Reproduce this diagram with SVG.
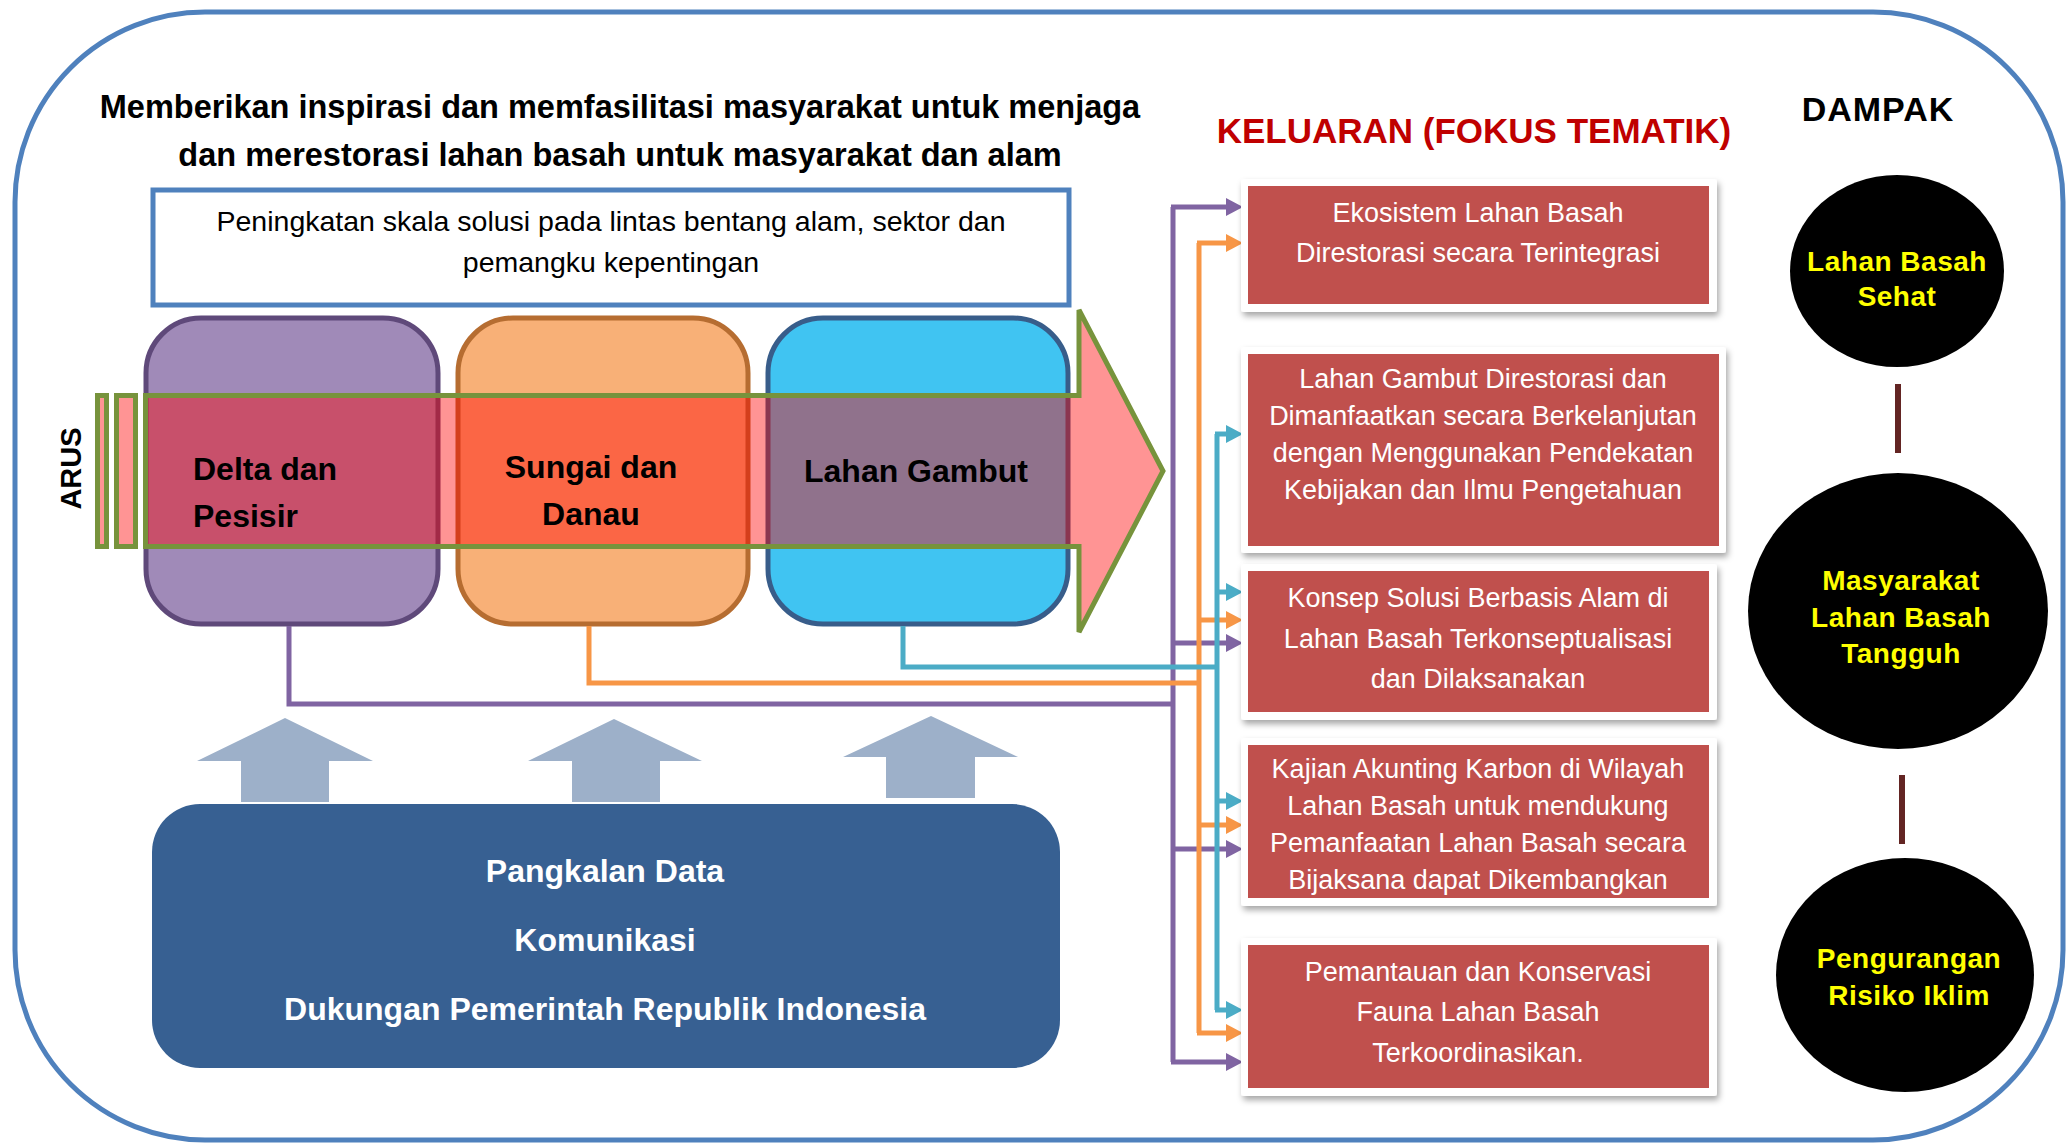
<svg xmlns="http://www.w3.org/2000/svg" width="2067" height="1145" viewBox="0 0 2067 1145">
<style>
text{font-family:"Liberation Sans",Arial,sans-serif}
.title{font-size:32.5px;font-weight:bold;fill:#000;text-anchor:middle}
.sub{font-size:28.5px;fill:#000;text-anchor:middle}
.band{font-size:32px;font-weight:bold;fill:#000}
.out{font-size:27px;fill:#fff;text-anchor:middle}
.base{font-size:32px;font-weight:bold;fill:#fff;text-anchor:middle}
.imp{font-size:28px;font-weight:bold;fill:#FFFF00;text-anchor:middle;letter-spacing:0.5px}
.frame{fill:#fff;filter:url(#sh)}
.red{fill:#C0504D}
.up{fill:#9DB0C9}
.ln{fill:none;stroke-width:5;stroke-linejoin:miter}
.pu{stroke:#8064A2}
.or{stroke:#F79646}
.bl{stroke:#4BACC6}
.bar{stroke:#632523;stroke-width:6}
</style>
<defs>
<filter id="sh" x="-5%" y="-10%" width="115%" height="130%">
<feDropShadow dx="2" dy="4" stdDeviation="3" flood-color="#000" flood-opacity="0.35"/>
</filter>
<marker id="mp" markerUnits="userSpaceOnUse" markerWidth="18" markerHeight="18" viewBox="0 0 18 18" refX="0" refY="9" orient="auto"><path d="M0 0 L17 9 L0 18 Z" fill="#8064A2"/></marker>
<marker id="mo" markerUnits="userSpaceOnUse" markerWidth="18" markerHeight="18" viewBox="0 0 18 18" refX="0" refY="9" orient="auto"><path d="M0 0 L17 9 L0 18 Z" fill="#F79646"/></marker>
<marker id="mb" markerUnits="userSpaceOnUse" markerWidth="18" markerHeight="18" viewBox="0 0 18 18" refX="0" refY="9" orient="auto"><path d="M0 0 L17 9 L0 18 Z" fill="#4BACC6"/></marker>
</defs>

<rect x="15" y="12" width="2048" height="1128" rx="190" ry="190" fill="#fff" stroke="#4F81BD" stroke-width="5"/>

<g id="title">
<text class="title" x="620" y="118">Memberikan inspirasi dan memfasilitasi masyarakat untuk menjaga</text>
<text class="title" x="620" y="166">dan merestorasi lahan basah untuk masyarakat dan alam</text>
</g>

<g id="scale-box">
<rect x="153" y="190" width="916" height="115" fill="#fff" stroke="#4F81BD" stroke-width="5"/>
<text class="sub" x="611" y="231">Peningkatan skala solusi pada lintas bentang alam, sektor dan</text>
<text class="sub" x="611" y="272">pemangku kepentingan</text>
</g>

<g id="delta">
<rect x="146" y="318" width="292" height="306" rx="55" fill="#A08AB8" stroke="#5F497A" stroke-width="5"/>
</g>
<g id="sungai">
<rect x="458" y="318" width="290" height="306" rx="55" fill="#F8B077" stroke="#B66D31" stroke-width="5"/>
</g>
<g id="gambut">
<rect x="768" y="318" width="300" height="306" rx="55" fill="#40C4F2" stroke="#385D8A" stroke-width="5"/>
</g>

<g id="arus">
<rect x="97.5" y="395.5" width="9" height="151" fill="#FF0000" fill-opacity="0.42" stroke="#77933C" stroke-width="5"/>
<rect x="116.5" y="395.5" width="19" height="151" fill="#FF0000" fill-opacity="0.42" stroke="#77933C" stroke-width="5"/>
<path d="M145.5 395.5 H1079 V310 L1163 471 L1079 632 V546.5 H145.5 Z" fill="#FF0000" fill-opacity="0.42" stroke="#77933C" stroke-width="5"/>
<text class="band" x="193" y="480">Delta dan</text>
<text class="band" x="193" y="527">Pesisir</text>
<text class="band" x="591" y="478" text-anchor="middle">Sungai dan</text>
<text class="band" x="591" y="525" text-anchor="middle">Danau</text>
<text class="band" x="916" y="482" text-anchor="middle">Lahan Gambut</text>
<text transform="translate(81,468.5) rotate(-90)" font-size="29" font-weight="bold" text-anchor="middle" fill="#000">ARUS</text>
</g>

<g id="support">
<polygon class="up" points="285,718 373,761 329,761 329,802 241,802 241,761 197,761"/>
<polygon class="up" points="614,719 702,761 660,761 660,802 572,802 572,761 528,761"/>
<polygon class="up" points="931,716 1018,757 975,757 975,798 886,798 886,757 843,757"/>
<rect x="152" y="804" width="908" height="264" rx="48" fill="#376092"/>
<text class="base" x="605" y="882">Pangkalan Data</text>
<text class="base" x="605" y="951">Komunikasi</text>
<text class="base" x="605" y="1020">Dukungan Pemerintah Republik Indonesia</text>
</g>

<g id="connectors">
<path class="ln pu" d="M289 626 V704 H1173"/>
<path class="ln pu" d="M1173 207 V1062"/>
<path class="ln pu" d="M1171 207 H1226" marker-end="url(#mp)"/>
<path class="ln pu" d="M1173 643 H1226" marker-end="url(#mp)"/>
<path class="ln pu" d="M1173 849 H1226" marker-end="url(#mp)"/>
<path class="ln pu" d="M1171 1062 H1226" marker-end="url(#mp)"/>
<path class="ln or" d="M589 626 V683 H1199"/>
<path class="ln or" d="M1199 243 V1033"/>
<path class="ln or" d="M1197 243 H1226" marker-end="url(#mo)"/>
<path class="ln or" d="M1199 620 H1226" marker-end="url(#mo)"/>
<path class="ln or" d="M1199 825 H1226" marker-end="url(#mo)"/>
<path class="ln or" d="M1197 1033 H1226" marker-end="url(#mo)"/>
<path class="ln bl" d="M903 626 V667 H1217"/>
<path class="ln bl" d="M1217 434 V1010"/>
<path class="ln bl" d="M1215 434 H1226" marker-end="url(#mb)"/>
<path class="ln bl" d="M1217 592 H1226" marker-end="url(#mb)"/>
<path class="ln bl" d="M1217 801 H1226" marker-end="url(#mb)"/>
<path class="ln bl" d="M1215 1010 H1226" marker-end="url(#mb)"/>
<line class="bar" x1="1898" y1="384" x2="1898" y2="453"/>
<line class="bar" x1="1902" y1="775" x2="1902" y2="844"/>
</g>

<g id="keluaran-header">
<text x="1474" y="143" font-size="35" font-weight="bold" fill="#C00000" text-anchor="middle">KELUARAN (FOKUS TEMATIK)</text>
</g>
<g id="dampak-header">
<text x="1878" y="121" font-size="34" font-weight="bold" fill="#000" text-anchor="middle" letter-spacing="1">DAMPAK</text>
</g>

<g id="out1">
<rect class="frame" x="1241" y="179" width="476" height="133" rx="3"/>
<rect class="red" x="1248" y="186" width="461" height="118"/>
<text class="out" x="1478" y="222">Ekosistem Lahan Basah</text>
<text class="out" x="1478" y="262">Direstorasi secara Terintegrasi</text>
</g>
<g id="out2">
<rect class="frame" x="1241" y="347" width="485" height="206" rx="3"/>
<rect class="red" x="1248" y="354" width="471" height="192"/>
<text class="out" x="1483" y="388">Lahan Gambut Direstorasi dan</text>
<text class="out" x="1483" y="425">Dimanfaatkan secara Berkelanjutan</text>
<text class="out" x="1483" y="462">dengan Menggunakan Pendekatan</text>
<text class="out" x="1483" y="499">Kebijakan dan Ilmu Pengetahuan</text>
</g>
<g id="out3">
<rect class="frame" x="1241" y="564" width="476" height="156" rx="3"/>
<rect class="red" x="1248" y="571" width="461" height="141"/>
<text class="out" x="1478" y="607">Konsep Solusi Berbasis Alam di</text>
<text class="out" x="1478" y="648">Lahan Basah Terkonseptualisasi</text>
<text class="out" x="1478" y="688">dan Dilaksanakan</text>
</g>
<g id="out4">
<rect class="frame" x="1241" y="738" width="476" height="168" rx="3"/>
<rect class="red" x="1248" y="745" width="461" height="153"/>
<text class="out" x="1478" y="778">Kajian Akunting Karbon di Wilayah</text>
<text class="out" x="1478" y="815">Lahan Basah untuk mendukung</text>
<text class="out" x="1478" y="852">Pemanfaatan Lahan Basah secara</text>
<text class="out" x="1478" y="889">Bijaksana dapat Dikembangkan</text>
</g>
<g id="out5">
<rect class="frame" x="1241" y="938" width="476" height="158" rx="3"/>
<rect class="red" x="1248" y="945" width="461" height="143"/>
<text class="out" x="1478" y="981">Pemantauan dan Konservasi</text>
<text class="out" x="1478" y="1021">Fauna Lahan Basah</text>
<text class="out" x="1478" y="1062">Terkoordinasikan.</text>
</g>

<g id="impact1">
<ellipse cx="1897" cy="271" rx="107" ry="96" fill="#000"/>
<text class="imp" x="1897" y="271">Lahan Basah</text>
<text class="imp" x="1897" y="306">Sehat</text>
</g>
<g id="impact2">
<ellipse cx="1898" cy="611" rx="150" ry="138" fill="#000"/>
<text class="imp" x="1901" y="590">Masyarakat</text>
<text class="imp" x="1901" y="627">Lahan Basah</text>
<text class="imp" x="1901" y="663">Tangguh</text>
</g>
<g id="impact3">
<ellipse cx="1905" cy="975" rx="129" ry="117" fill="#000"/>
<text class="imp" x="1909" y="968">Pengurangan</text>
<text class="imp" x="1909" y="1005">Risiko Iklim</text>
</g>
</svg>
